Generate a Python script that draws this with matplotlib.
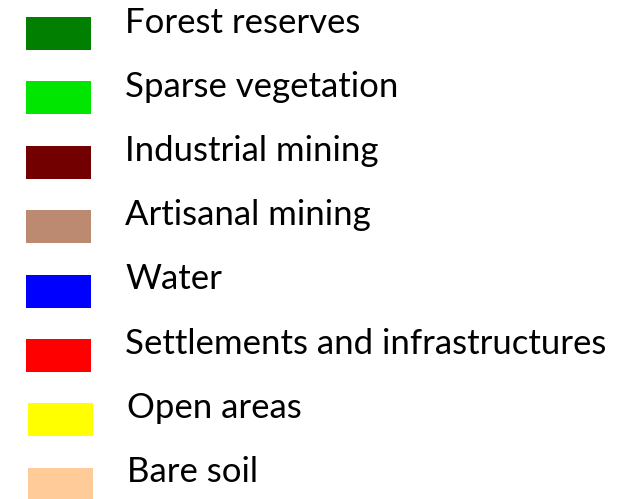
import matplotlib
matplotlib.use("Agg")
import matplotlib.pyplot as plt
from matplotlib.patches import Rectangle

# legend entries (top to bottom)
labels = ["Forest reserves", "Sparse vegetation", "Industrial mining",
          "Artisanal mining", "Water", "Settlements and infrastructures",
          "Open areas", "Bare soil"]
colors = ["#007F00", "#00E600", "#730000", "#BC8A70",
          "#0000FF", "#FF0000", "#FFFF00", "#FFCC99"]

W, H = 633, 499
fig = plt.figure(figsize=(W / 100, H / 100), dpi=100)
ax = fig.add_axes([0, 0, 1, 1])
ax.set_xlim(0, W); ax.set_ylim(H, 0)
ax.axis("off")

for i, (lab, col) in enumerate(zip(labels, colors)):
    top = 17 + i * 64.4          # swatch top (px)
    base = 33 + i * 64.1         # text baseline (px)
    x0 = 26 if i < 6 else 28
    ax.add_patch(Rectangle((x0, top), 65, 33, facecolor=col, edgecolor="none"))
    ax.text(x0 + 99, base, lab, fontsize=25, family="Lato",
            va="baseline", ha="left", color="black")

fig.savefig("out.png", dpi=100)
